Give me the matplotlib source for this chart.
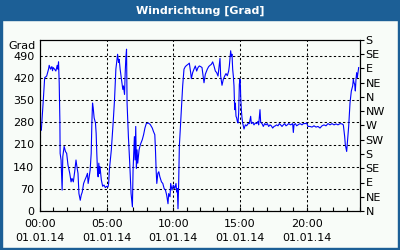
import matplotlib
matplotlib.use("Agg")
import matplotlib.pyplot as plt
from matplotlib.patches import Rectangle
import numpy as np

# wind direction over the day (hours since 00:00, degrees)
hours = [
    0.05, 0.10, 0.17, 0.25, 0.35, 0.50, 0.54, 0.64, 0.69, 0.79,
    0.89, 0.94, 0.99, 1.09, 1.19, 1.29, 1.34, 1.39, 1.44, 1.49,
    1.51, 1.58, 1.66, 1.71, 1.81, 1.91, 2.00, 2.10, 2.23, 2.33,
    2.40, 2.50, 2.60, 2.70, 2.75, 2.85, 2.92, 3.02, 3.09, 3.17,
    3.27, 3.37, 3.47, 3.56, 3.61, 3.69, 3.76, 3.84, 3.89, 3.94,
    3.99, 4.06, 4.16, 4.21, 4.26, 4.31, 4.36, 4.41, 4.46, 4.50,
    4.60, 4.70, 4.80, 4.90, 5.00, 5.10, 5.15, 5.20, 5.35, 5.50,
    5.59, 5.69, 5.82, 5.89, 5.94, 6.01, 6.14, 6.21, 6.26, 6.34,
    6.39, 6.44, 6.49, 6.53, 6.63, 6.73, 6.83, 6.93, 6.98, 7.08,
    7.13, 7.18, 7.23, 7.28, 7.33, 7.43, 7.52, 7.67, 7.77, 7.87,
    7.97, 8.12, 8.27, 8.42, 8.51, 8.61, 8.66, 8.71, 8.76, 8.84,
    8.91, 8.99, 9.11, 9.21, 9.31, 9.41, 9.50, 9.60, 9.65, 9.75,
    9.80, 9.90, 10.00, 10.10, 10.20, 10.25, 10.30, 10.35, 10.40, 10.45,
    10.55, 10.60, 10.65, 10.70, 10.80, 10.90, 11.00, 11.10, 11.20, 11.30,
    11.35, 11.45, 11.55, 11.65, 11.75, 11.85, 11.95, 12.05, 12.15, 12.25,
    12.30, 12.40, 12.55, 12.65, 12.75, 12.85, 12.95, 13.05, 13.15, 13.25,
    13.35, 13.45, 13.50, 13.55, 13.65, 13.75, 13.85, 13.95, 14.05, 14.15,
    14.20, 14.30, 14.35, 14.40, 14.45, 14.50, 14.55, 14.60, 14.65, 14.70,
    14.75, 14.80, 14.85, 14.90, 14.95, 15.00, 15.03, 15.05, 15.10, 15.15,
    15.20, 15.30, 15.40, 15.50, 15.60, 15.70, 15.80, 15.85, 15.95, 16.05,
    16.15, 16.25, 16.35, 16.40, 16.50, 16.55, 16.65, 16.75, 16.85, 16.95,
    17.05, 17.15, 17.25, 17.35, 17.45, 17.55, 17.65, 17.75, 17.85, 17.95,
    18.05, 18.15, 18.25, 18.35, 18.45, 18.55, 18.65, 18.80, 18.95, 19.00,
    19.05, 19.15, 19.25, 19.35, 19.50, 19.65, 19.75, 19.90, 20.00, 20.10,
    20.25, 20.40, 20.55, 20.70, 20.85, 21.00, 21.15, 21.30, 21.45, 21.60,
    21.75, 21.90, 22.05, 22.20, 22.35, 22.50, 22.65, 22.75, 22.85, 22.90,
    23.00, 23.05, 23.15, 23.25, 23.35, 23.45, 23.50, 23.55, 23.60, 23.65,
    23.70, 23.75, 23.80, 23.90,
]
degrees = [
    259, 255, 299, 352, 421, 426, 432, 448, 460, 448,
    456, 443, 453, 448, 442, 460, 448, 471, 405, 288,
    182, 161, 66, 172, 204, 188, 182, 145, 119, 92,
    103, 92, 124, 161, 145, 119, 55, 34, 50, 60,
    87, 98, 108, 119, 87, 108, 129, 182, 278, 341,
    326, 294, 278, 246, 182, 129, 108, 151, 119, 140,
    98, 78, 82, 74, 78, 76, 87, 129, 193, 288,
    352, 448, 495, 469, 479, 448, 405, 384, 395, 368,
    437, 485, 511, 341, 235, 151, 55, 13, 129, 235,
    161, 267, 135, 193, 151, 193, 209, 225, 241, 262,
    276, 278, 273, 262, 251, 241, 193, 129, 87, 119,
    124, 108, 92, 87, 71, 66, 50, 23, 55, 45,
    87, 66, 82, 71, 87, 60, 71, 7, 87, 204,
    278, 320, 352, 395, 448, 456, 460, 463, 467, 437,
    418, 437, 448, 458, 442, 453, 458, 456, 453, 421,
    405, 432, 448, 456, 460, 463, 471, 458, 442, 437,
    426, 463, 482, 426, 397, 416, 426, 434, 427, 442,
    458, 506, 488, 495, 448, 426, 395, 320, 341, 299,
    294, 283, 278, 310, 400, 416, 395, 363, 320, 294,
    278, 259, 272, 269, 276, 276, 299, 276, 280, 272,
    278, 276, 283, 272, 320, 280, 276, 267, 276, 272,
    276, 267, 272, 269, 262, 267, 269, 272, 269, 276,
    272, 267, 272, 276, 269, 272, 276, 272, 276, 248,
    272, 276, 269, 272, 276, 272, 276, 276, 278, 267,
    267, 265, 269, 265, 267, 262, 269, 272, 269, 276,
    272, 276, 272, 275, 272, 276, 275, 272, 235, 209,
    188, 214, 267, 341, 379, 395, 416, 405, 400, 379,
    416, 437, 421, 453,
]

left_ticks = [0, 70, 140, 210, 280, 350, 420, 490]
compass = ["N", "NE", "E", "SE", "S", "SW", "W", "NW", "N", "NE", "E", "SE", "S"]
time_labels = ["00:00\n01.01.14", "05:00\n01.01.14", "10:00\n01.01.14",
               "15:00\n01.01.14", "20:00\n01.01.14"]

frame_blue = "#1c5f96"
bg = "#f8fcf8"

plt.rcParams["font.family"] = "DejaVu Sans"
fig = plt.figure(figsize=(4, 2.5), dpi=100, facecolor=bg)

# title bar and frame
fig.patches.append(Rectangle((0, 0.92), 1, 0.08, transform=fig.transFigure,
                             color=frame_blue, zorder=0))
fig.patches.append(Rectangle((0, 0), 0.005, 1, transform=fig.transFigure,
                             color=frame_blue, zorder=0))
fig.patches.append(Rectangle((0.994, 0), 0.006, 1, transform=fig.transFigure,
                             color=frame_blue, zorder=0))
fig.patches.append(Rectangle((0, 0), 1, 0.008, transform=fig.transFigure,
                             color=frame_blue, zorder=0))
fig.text(0.5, 0.958, "Windrichtung [Grad]", color="white", fontsize=8,
         fontweight="bold", ha="center", va="center")

ax = fig.add_axes([0.1, 0.156, 0.8, 0.684])
ax.set_facecolor(bg)
ax.plot(hours, degrees, color="#0000ff", lw=0.8, zorder=3)

ax.set_xlim(0, 24)
ax.set_ylim(0, 540)
ax.set_yticks(left_ticks)
ax.set_yticklabels([str(t) for t in left_ticks])
ax.set_xticks([0, 5, 10, 15, 20])
ax.set_xticklabels(time_labels, linespacing=1.4)
ax.set_xticks(np.arange(0, 25, 1), minor=True)
ax.tick_params(axis="x", which="both", direction="in", length=3, width=0.8,
               labelsize=8, pad=6)
ax.tick_params(axis="y", length=0, labelsize=8, pad=4)
ax.grid(True, color="black", ls=(0, (2.2, 2.2)), lw=0.75)
for s in ax.spines.values():
    s.set_linewidth(0.8)

ax.text(-0.015, 522, "Grad", transform=ax.get_yaxis_transform(),
        ha="right", va="center", fontsize=8)

ax2 = ax.twinx()
ax2.set_ylim(0, 540)
ax2.set_yticks(np.arange(0, 541, 45))
ax2.set_yticklabels(compass)
ax2.tick_params(axis="y", direction="out", length=3, width=0.8, labelsize=8, pad=1)
for s in ax2.spines.values():
    s.set_linewidth(0.8)

fig.savefig("out.png", dpi=100, facecolor=bg)
